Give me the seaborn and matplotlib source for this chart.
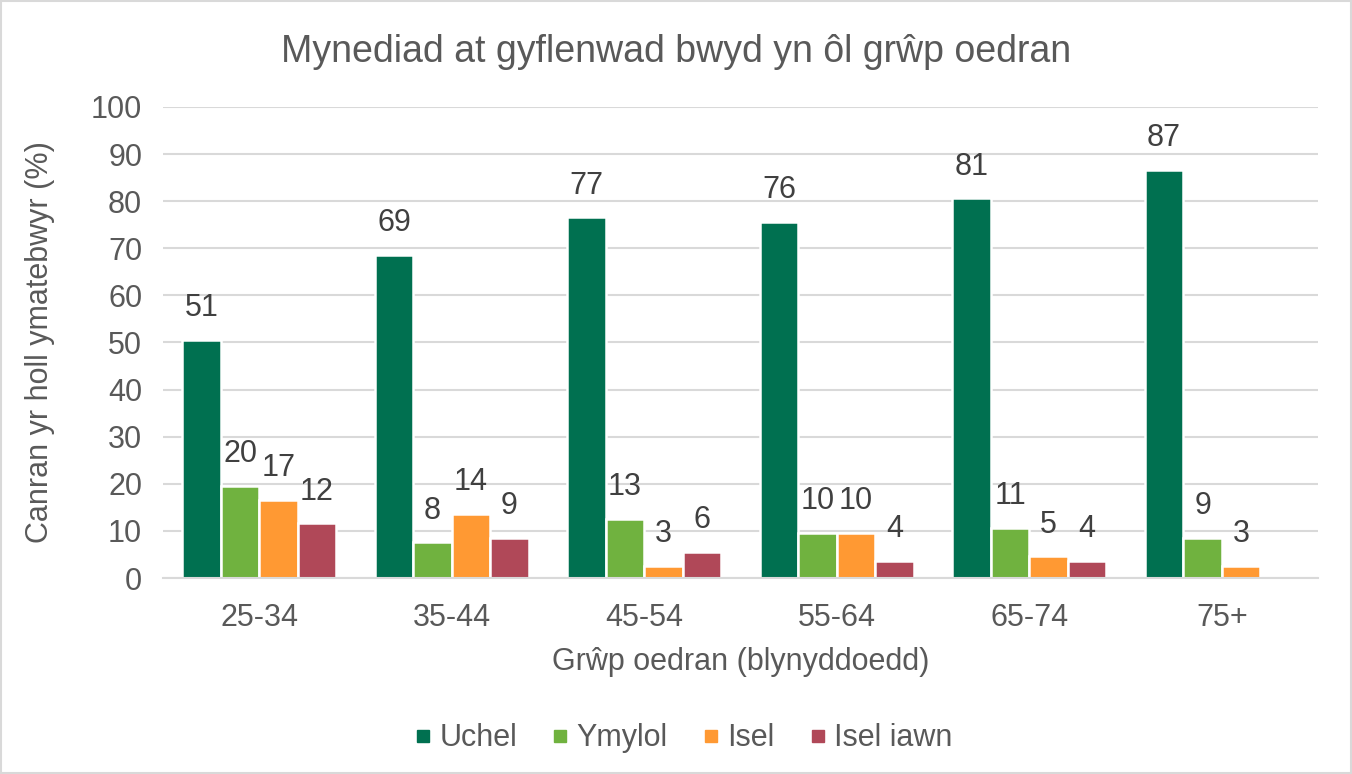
import pandas as pd
import numpy as np
import matplotlib.pyplot as plt
import seaborn as sns
from matplotlib.patches import Rectangle
from matplotlib.lines import Line2D

# Data
age_groups = ['25-34', '35-44', '45-54', '55-64', '65-74', '75+']
levels = ['Uchel', 'Ymylol', 'Isel', 'Isel iawn']
uchel = [50.6, 68.6, 76.6, 75.6, 80.6, 86.6]
ymylol = [19.6, 7.6, 12.6, 9.6, 10.6, 8.6]
isel = [16.6, 13.6, 2.6, 9.6, 4.6, 2.6]
isel_iawn = [11.6, 8.6, 5.6, 3.6, 3.6, np.nan]  # no bar for 75+
colours = ['#007050', '#70B23F', '#FF9933', '#B04858']

# Build long-form table
rows = []
for level, values in zip(levels, [uchel, ymylol, isel, isel_iawn]):
    for group, v in zip(age_groups, values):
        if not np.isnan(v):
            rows.append({'group': group, 'level': level, 'value': v})
df = pd.DataFrame(rows)

sns.set_style('white')
plt.rcParams['font.family'] = ['Liberation Sans', 'DejaVu Sans']
text_col = '#404040'
tick_col = '#595959'

fig = plt.figure(figsize=(13.52, 7.74), dpi=100)
ax = fig.add_axes([0.1206, 0.2532, 0.8543, 0.6086])

sns.barplot(data=df, x='group', y='value', hue='level', order=age_groups,
            hue_order=levels, palette=colours, saturation=1, width=0.8,
            edgecolor='white', linewidth=1.8, ax=ax, legend=False)

# Value labels above bars
for container in ax.containers:
    ax.bar_label(container, labels=[f'{round(v):d}' for v in container.datavalues],
                 padding=12, fontsize=22, color=text_col)

ax.set_ylim(0, 100)
ax.set_xlim(-0.5, len(age_groups) - 0.5)
ax.set_yticks(range(0, 101, 10))
ax.yaxis.grid(True, color='#D9D9D9', linewidth=1.5)
ax.set_axisbelow(True)
for side in ['left', 'right', 'top']:
    ax.spines[side].set_visible(False)
ax.spines['bottom'].set_color('#D9D9D9')
ax.spines['bottom'].set_linewidth(1.5)

# tick marks between the groups, like the original
ax.set_xticks(np.arange(-0.5, len(age_groups), 1), minor=True)
ax.tick_params(axis='x', which='minor', length=10, width=1.5, color='#D9D9D9')
ax.tick_params(axis='x', which='major', length=0, pad=18, labelsize=22, labelcolor=tick_col)
ax.tick_params(axis='y', length=0, pad=15, labelsize=22, labelcolor=tick_col)

ax.set_xlabel('Grŵp oedran (blynyddoedd)', fontsize=22, color=tick_col, labelpad=10)
ax.set_ylabel('Canran yr holl ymatebwyr (%)', fontsize=22, color=tick_col, labelpad=26)

fig.text(0.5, 0.933, 'Mynediad at gyflenwad bwyd yn ôl grŵp oedran',
         ha='center', va='center', fontsize=27, color=tick_col)

handles = [Line2D([0], [0], marker='s', linestyle='', markersize=9,
                  markerfacecolor=c, markeredgecolor=c) for c in colours]
fig.legend(handles, levels, loc='center', bbox_to_anchor=(0.503, 0.046), ncol=4,
           frameon=False, fontsize=22, handletextpad=0.05, columnspacing=0.9,
           handlelength=1.0, labelcolor=tick_col)

fig.patches.append(Rectangle((0.001, 0.001), 0.998, 0.998, transform=fig.transFigure,
                             fill=False, edgecolor='#D9D9D9', linewidth=1.5))

fig.savefig('out.png', dpi=100, facecolor='white')
